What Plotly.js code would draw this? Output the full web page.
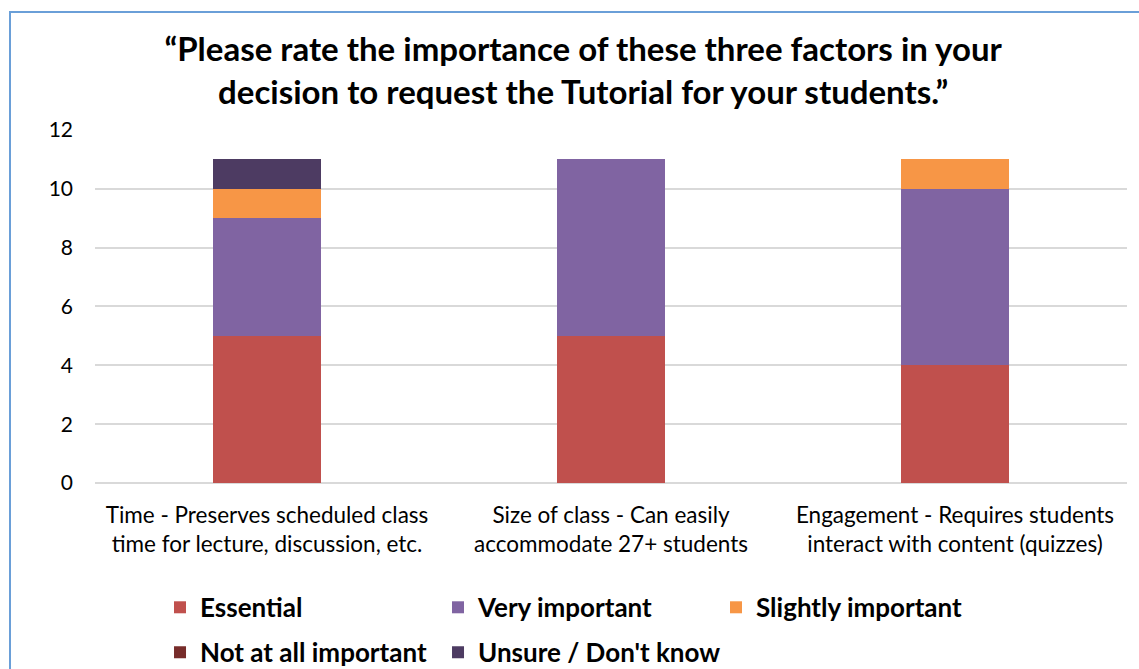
<!DOCTYPE html>
<html>
<head>
<meta charset="utf-8">
<script src="https://cdn.plot.ly/plotly-3.0.1.min.js"></script>
<style>
  html, body { margin: 0; padding: 0; background: #ffffff; overflow: hidden; }
  #chart { width: 1139px; height: 669px; position: absolute; left: 0; top: 0; }
  #frame { position: absolute; left: 9px; top: 11px; width: 1200px; height: 700px;
           border-left: 2px solid #6a9fd8; border-top: 2px solid #6a9fd8; pointer-events: none; }
</style>
</head>
<body>
<div id="chart"></div>
<div id="frame"></div>
<script>
const categories = [
  "Time - Preserves scheduled class<br>time for lecture, discussion, etc.",
  "Size of class - Can easily<br>accommodate 27+ students",
  "Engagement - Requires students<br>interact with content (quizzes)"
];
const essential = [5, 5, 4];
const veryImportant = [4, 6, 6];
const slightlyImportant = [1, 0, 1];
const notAtAllImportant = [0, 0, 0];
const unsure = [1, 0, 0];
const yTicks = [0, 2, 4, 6, 8, 10, 12];

const seriesNames = ["Essential", "Very important", "Slightly important", "Not at all important", "Unsure / Don't know"];
const seriesValues = [essential, veryImportant, slightlyImportant, notAtAllImportant, unsure];
const seriesColors = ["#c0504d", "#8064a2", "#f79646", "#772c2a", "#4d3b62"];
const seriesLegend = ["legend", "legend", "legend", "legend2", "legend2"];

const traces = seriesNames.map((name, i) => ({
  type: "bar",
  name: name,
  x: categories,
  y: seriesValues[i],
  legend: seriesLegend[i],
  marker: { color: seriesColors[i], line: { width: 0 } },
  hoverinfo: "x+y+name"
}));

// invisible spacer entry so the second legend row is not clipped
traces.push({
  type: "bar",
  name: " ",
  x: categories,
  y: [0, 0, 0],
  legend: "legend2",
  marker: { color: "rgba(0,0,0,0)", line: { width: 0 } },
  hoverinfo: "skip"
});

const font = "Lato, 'Open Sans', sans-serif";
const legendFont = { family: font, size: 26, color: "#000000", weight: "bold" };

const layout = {
  width: 1139,
  height: 669,
  barmode: "stack",
  bargap: 0.686,
  paper_bgcolor: "#ffffff",
  plot_bgcolor: "#ffffff",
  margin: { l: 95, r: 12, t: 129, b: 186, autoexpand: false },
  font: { family: font, color: "#000000" },
  title: {
    text: "<b>“Please rate the importance of these three factors in your<br>decision to request the Tutorial for your students.”</b>",
    font: { family: font, size: 33, color: "#000000" },
    xref: "container",
    x: 0.512,
    xanchor: "center",
    yref: "container",
    y: 0.909,
    yanchor: "middle"
  },
  xaxis: {
    type: "category",
    tickfont: { family: font, size: 22.5, color: "#000000" },
    showgrid: false,
    showline: false,
    zeroline: false,
    ticks: "",
    ticklabelstandoff: 16,
    fixedrange: true
  },
  yaxis: {
    range: [0, 12.03],
    tickvals: yTicks,
    ticktext: yTicks.map(String),
    tickfont: { family: font, size: 21, color: "#000000" },
    showgrid: true,
    gridcolor: "#d9d9d9",
    gridwidth: 2,
    zeroline: true,
    zerolinecolor: "#d9d9d9",
    zerolinewidth: 2,
    showline: false,
    ticks: "",
    ticklabelstandoff: 21,
    fixedrange: true
  },
  showlegend: true,
  legend: {
    orientation: "h",
    x: 0.063,
    xanchor: "left",
    y: -0.285,
    yanchor: "top",
    entrywidth: 233,
    entrywidthmode: "pixels",
    traceorder: "normal",
    font: legendFont,
    itemclick: false,
    itemdoubleclick: false
  },
  legend2: {
    orientation: "h",
    x: 0.063,
    xanchor: "left",
    y: -0.412,
    yanchor: "top",
    entrywidth: 233,
    entrywidthmode: "pixels",
    traceorder: "normal",
    font: legendFont,
    itemclick: false,
    itemdoubleclick: false
  }
};

Plotly.newPlot("chart", traces, layout, { displayModeBar: false, staticPlot: true });
</script>
</body>
</html>
